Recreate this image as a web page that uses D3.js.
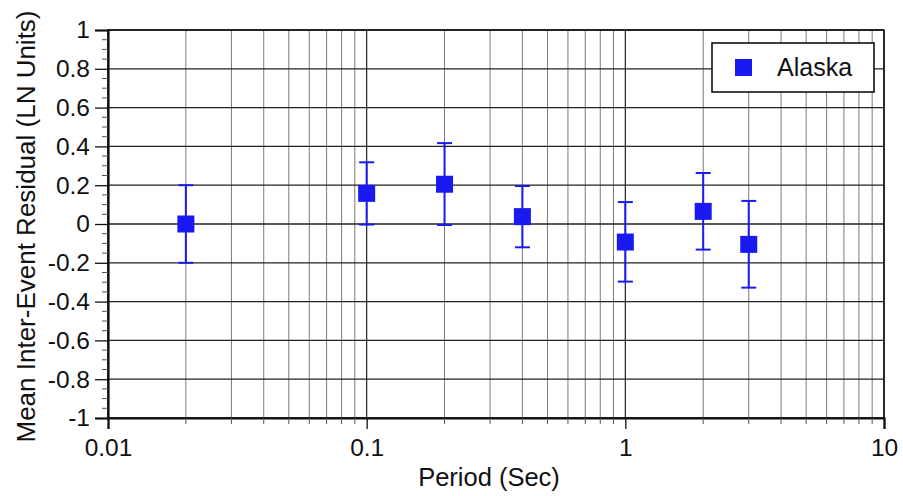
<!DOCTYPE html>
<html>
<head>
<meta charset="utf-8">
<script src="https://cdn.jsdelivr.net/npm/d3@7"></script>
<style>
  html, body { margin: 0; padding: 0; background: #fff; }
  svg { display: block; font-family: "Liberation Sans", Arial, Helvetica, sans-serif; }
</style>
</head>
<body>
<svg id="chart" width="903" height="496"></svg>
<script>
// Mean inter-event residuals by spectral period, Alaska events
const periods   = [0.02, 0.1, 0.2, 0.4, 1, 2, 3];
const meanResid = [0.0, 0.158, 0.205, 0.038, -0.093, 0.065, -0.105];
const upperBar  = [0.20, 0.318, 0.417, 0.196, 0.113, 0.263, 0.119];
const lowerBar  = [-0.20, -0.003, -0.005, -0.12, -0.297, -0.132, -0.328];

const xTickValues = [0.01, 0.1, 1, 10];
const xTickLabels = ["0.01", "0.1", "1", "10"];
const yTickValues = [1, 0.8, 0.6, 0.4, 0.2, 0, -0.2, -0.4, -0.6, -0.8, -1];
const yTickLabels = ["1", "0.8", "0.6", "0.4", "0.2", "0", "-0.2", "-0.4", "-0.6", "-0.8", "-1"];
const seriesName = "Alaska";

const margin = { left: 108, right: 19, top: 30, bottom: 78 };
const W = 903, H = 496;
const svg = d3.select("#chart");

const x = d3.scaleLog().domain([0.01, 10]).range([margin.left, W - margin.right]);
const y = d3.scaleLinear().domain([-1, 1]).range([H - margin.bottom, margin.top]);

const blue = "#1a1af0";

// minor (2..9 per decade) period values for the vertical grid
const minorX = [];
for (let e = -2; e < 1; e++) {
  for (let m = 2; m <= 9; m++) minorX.push(m * Math.pow(10, e));
}

const grid = svg.append("g");
grid.selectAll("line.vmin").data(minorX).join("line")
  .attr("x1", d => x(d)).attr("x2", d => x(d))
  .attr("y1", y(1)).attr("y2", y(-1))
  .attr("stroke", "#7a7a7a").attr("stroke-width", 1);
grid.selectAll("line.vmaj").data(xTickValues).join("line")
  .attr("x1", d => x(d)).attr("x2", d => x(d))
  .attr("y1", y(1)).attr("y2", y(-1))
  .attr("stroke", "#222").attr("stroke-width", 1.2);
grid.selectAll("line.h").data(yTickValues).join("line")
  .attr("x1", x(0.01)).attr("x2", x(10))
  .attr("y1", d => y(d)).attr("y2", d => y(d))
  .attr("stroke", "#222").attr("stroke-width", 1.3);

// frame
svg.append("rect")
  .attr("x", x(0.01)).attr("y", y(1))
  .attr("width", x(10) - x(0.01)).attr("height", y(-1) - y(1))
  .attr("fill", "none").attr("stroke", "#111").attr("stroke-width", 1.5);

// x axis with major and minor ticks
const xAxis = d3.axisBottom(x)
  .tickValues(xTickValues)
  .tickFormat((d, i) => xTickLabels[i])
  .tickSize(11).tickPadding(10);
const gx = svg.append("g").attr("transform", `translate(0,${y(-1)})`).call(xAxis);
gx.select(".domain").attr("stroke", "#111").attr("stroke-width", 2.2);
gx.selectAll(".tick line").attr("stroke", "#111").attr("stroke-width", 1.3);
gx.selectAll(".tick text").attr("font-size", 24.5).attr("fill", "#111")
  .attr("font-family", "'Liberation Sans', Arial, sans-serif");
svg.append("g").attr("transform", `translate(0,${y(-1)})`)
  .selectAll("line").data(minorX).join("line")
  .attr("x1", d => x(d)).attr("x2", d => x(d))
  .attr("y1", 0).attr("y2", 6)
  .attr("stroke", "#555").attr("stroke-width", 1);

// y axis with major and minor ticks
const yAxis = d3.axisLeft(y)
  .tickValues(yTickValues)
  .tickFormat((d, i) => yTickLabels[i])
  .tickSize(13).tickPadding(5);
const gy = svg.append("g").attr("transform", `translate(${x(0.01)},0)`).call(yAxis);
gy.select(".domain").attr("stroke", "#111").attr("stroke-width", 2.2);
gy.selectAll(".tick line").attr("stroke", "#111").attr("stroke-width", 1.3);
gy.selectAll(".tick text").attr("font-size", 24.5).attr("fill", "#111")
  .attr("font-family", "'Liberation Sans', Arial, sans-serif");
const minorY = d3.range(-20, 21).map(i => i * 0.05).filter(v => Math.abs(Math.round(v * 5) - v * 5) > 1e-6);
svg.append("g").attr("transform", `translate(${x(0.01)},0)`)
  .selectAll("line").data(minorY).join("line")
  .attr("x1", -6).attr("x2", 0)
  .attr("y1", d => y(d)).attr("y2", d => y(d))
  .attr("stroke", "#555").attr("stroke-width", 1);

// axis titles
svg.append("text")
  .attr("x", 489).attr("y", 486)
  .attr("text-anchor", "middle").attr("font-size", 25.5).attr("fill", "#111")
  .text("Period (Sec)");
svg.append("text")
  .attr("transform", `translate(35,${(13 + 440) / 2}) rotate(-90)`)
  .attr("text-anchor", "middle").attr("font-size", 26).attr("fill", "#111")
  .text("Mean Inter-Event Residual (LN Units)");

// error bars and markers
const pts = periods.map((p, i) => ({ p, m: meanResid[i], hi: upperBar[i], lo: lowerBar[i] }));
const marks = svg.append("g");
marks.selectAll("line.stem").data(pts).join("line")
  .attr("x1", d => x(d.p)).attr("x2", d => x(d.p))
  .attr("y1", d => y(d.hi)).attr("y2", d => y(d.lo))
  .attr("stroke", blue).attr("stroke-width", 2);
const capW = 15;
marks.selectAll("line.capHi").data(pts).join("line")
  .attr("x1", d => x(d.p) - capW / 2).attr("x2", d => x(d.p) + capW / 2)
  .attr("y1", d => y(d.hi)).attr("y2", d => y(d.hi))
  .attr("stroke", blue).attr("stroke-width", 2);
marks.selectAll("line.capLo").data(pts).join("line")
  .attr("x1", d => x(d.p) - capW / 2).attr("x2", d => x(d.p) + capW / 2)
  .attr("y1", d => y(d.lo)).attr("y2", d => y(d.lo))
  .attr("stroke", blue).attr("stroke-width", 2);
const sq = 17;
marks.selectAll("rect").data(pts).join("rect")
  .attr("x", d => x(d.p) - sq / 2).attr("y", d => y(d.m) - sq / 2)
  .attr("width", sq).attr("height", sq)
  .attr("fill", blue);

// legend
const lg = svg.append("g").attr("transform", "translate(712,43)");
lg.append("rect").attr("width", 162).attr("height", 49)
  .attr("fill", "#fff").attr("stroke", "#111").attr("stroke-width", 1.6);
lg.append("rect").attr("x", 23).attr("y", 16).attr("width", 17).attr("height", 17).attr("fill", blue);
lg.append("text").attr("x", 65).attr("y", 33)
  .attr("font-size", 25).attr("fill", "#111").text(seriesName);
</script>
</body>
</html>
